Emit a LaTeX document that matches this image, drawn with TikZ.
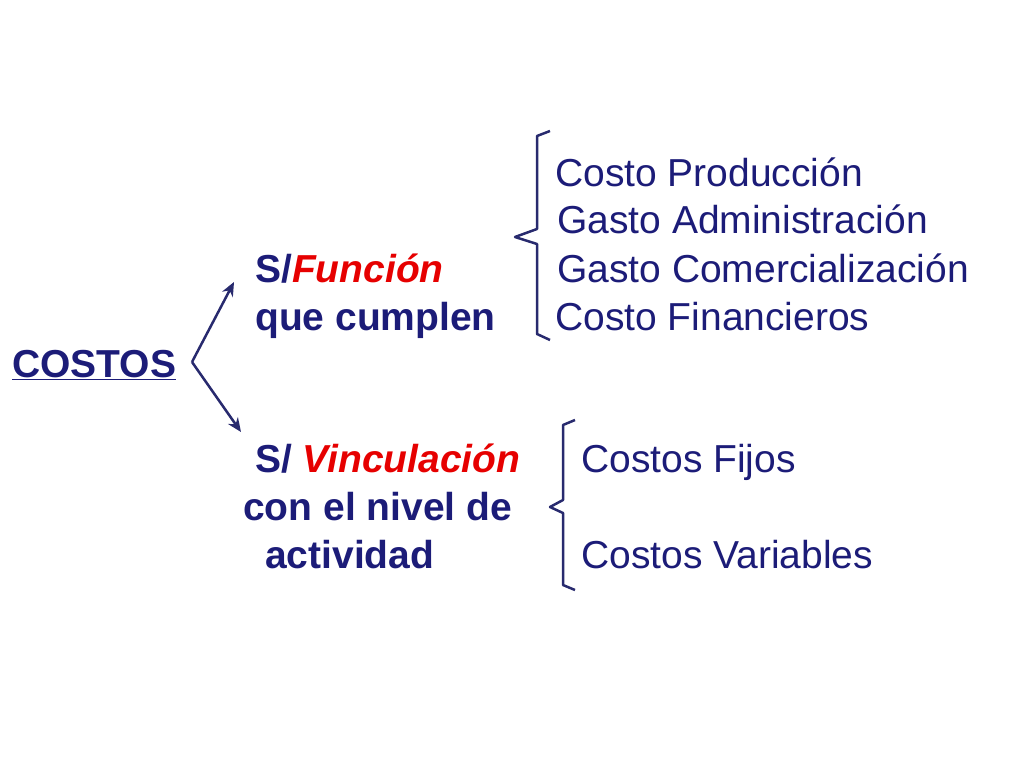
\documentclass[tikz,border=0pt]{standalone}
\usepackage{fontspec}
\setmainfont{Liberation Sans}
\usetikzlibrary{arrows.meta}
\definecolor{navy}{RGB}{28,28,120}
\definecolor{linecol}{RGB}{40,42,110}
\definecolor{redtxt}{RGB}{230,0,0}
\tikzset{
  txt/.style={anchor=base west, inner sep=0pt, text=navy, font=\fontsize{39}{46}\selectfont},
  head/.style={txt, font=\fontsize{39}{46}\selectfont\bfseries},
  brace/.style={draw=linecol, line width=2.5pt, line join=round},
  branch/.style={draw=linecol, line width=2.5pt, -{Stealth[length=14pt,width=12pt]}}
}
\begin{document}
\begin{tikzpicture}[x=1pt,y=-1pt]
\useasboundingbox (0,0) rectangle (1024,768);
% left side
\node[head] (costos) at (12,377) {\underline{COSTOS}};
\node[head] (func) at (255,282) {S/\textcolor{redtxt}{\itshape Función}};
\node[head] (cumplen) at (255,330) {que cumplen};
\node[head] (vinc) at (255,472) {S/ \textcolor{redtxt}{\itshape Vinculación}};
\node[head] (nivel) at (243,520) {con el nivel de};
\node[head] (activ) at (265,568) {actividad};
\coordinate (fork) at (192,362);
\draw[linecol, line width=2.5pt] (fork) -- ++(0,0);
\draw[branch] (fork) -- (234,282);
\draw[branch] (fork) -- (241,432);
% function costs
\node[txt] (prod) at (555,186) {Costo Producción};
\node[txt] (admin) at (557,233) {Gasto Administración};
\node[txt] (comer) at (557,282) {Gasto Comercialización};
\node[txt] (fin) at (555,330) {Costo Financieros};
\draw[brace] (550,131) -- (537,136) -- (537,229) -- (515,237) -- (537,244) -- (537,334) -- (550,340);
% activity costs
\node[txt] (fijos) at (581,472) {Costos Fijos};
\node[txt] (variab) at (581,568) {Costos Variables};
\draw[brace] (575,420) -- (563,425) -- (563,500) -- (550,507) -- (563,513) -- (563,585) -- (575,590);
\end{tikzpicture}
\end{document}
